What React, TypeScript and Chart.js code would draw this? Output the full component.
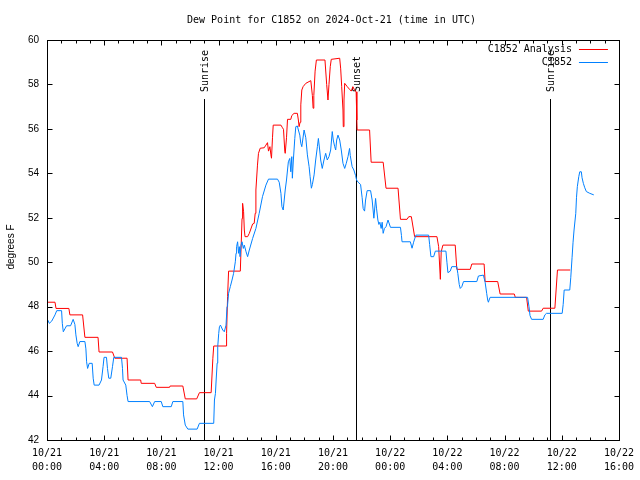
import React, { useEffect, useRef } from 'react';
import { Chart, registerables } from 'chart.js';

Chart.register(...registerables);

const TITLE = 'Dew Point for C1852 on 2024-Oct-21 (time in UTC)';
const Y_TITLE = 'degrees F';
const ANALYSIS_NAME = 'C1852 Analysis';
const OBS_NAME = 'C1852';

const X_TICK_DATES = ['10/21', '10/21', '10/21', '10/21', '10/21', '10/21', '10/22', '10/22', '10/22', '10/22', '10/22'];
const X_TICK_TIMES = ['00:00', '04:00', '08:00', '12:00', '16:00', '20:00', '00:00', '04:00', '08:00', '12:00', '16:00'];

const SUN_LABELS = ['Sunrise', 'Sunset', 'Sunrise'];
const SUN_HOURS = [11.01, 21.62, 35.17];

// hours since 10/21 00:00 UTC
const analysisHours = [
  0, 0.56, 0.63, 1.53, 1.6, 2.49, 2.65, 3.57, 3.64, 4.58,
  4.74, 5.6, 5.67, 6.55, 6.59, 7.53, 7.64, 8.57, 8.61, 9.5,
  9.67, 10.47, 10.66, 11.48, 11.6, 11.66, 12.52, 12.56, 12.63, 12.7,
  13.52, 13.64, 13.68, 13.75, 13.8, 13.85, 14.03, 14.15, 14.38, 14.49,
  14.56, 14.61, 14.72, 14.79, 14.91, 15.19, 15.31, 15.42, 15.49, 15.59,
  15.66, 15.7, 15.77, 15.82, 16.36, 16.47, 16.54, 16.63, 16.66, 16.75,
  16.82, 17.05, 17.12, 17.28, 17.51, 17.58, 17.63, 17.7, 17.75, 17.82,
  17.91, 18.1, 18.45, 18.56, 18.61, 18.66, 18.75, 18.84, 19.44, 19.56,
  19.65, 19.72, 19.81, 19.88, 20.47, 20.54, 20.61, 20.7, 20.72, 20.77,
  20.82, 21.0, 21.16, 21.28, 21.39, 21.53, 21.62, 21.67, 21.69, 22.56,
  22.67, 23.51, 23.71, 24.55, 24.72, 25.18, 25.3, 25.48, 25.71, 27.27,
  27.39, 27.51, 27.57, 27.69, 28.55, 28.66, 29.6, 29.71, 30.57, 30.64,
  31.52, 31.69, 32.68, 32.75, 33.54, 33.66, 34.59, 34.7, 35.52, 35.7,
  36.59,
];
const analysisValues = [
  48.2, 48.2, 47.92, 47.92, 47.63, 47.63, 46.62, 46.62, 45.96, 45.96,
  45.68, 45.68, 44.7, 44.7, 44.55, 44.55, 44.37, 44.37, 44.43, 44.43,
  43.85, 43.85, 44.13, 44.13, 45.68, 46.23, 46.23, 46.8, 48.45, 49.6,
  49.6, 51.97, 52.65, 52.27, 51.45, 51.15, 51.15, 51.3, 51.72, 51.75,
  52.2, 53.25, 54.37, 54.9, 55.13, 55.15, 55.27, 55.38, 55.0, 55.2,
  54.83, 54.68, 55.6, 56.17, 56.17, 56.05, 55.98, 55.0, 54.9, 55.6,
  56.43, 56.43, 56.6, 56.7, 56.7, 56.4, 56.1, 56.3, 57.08, 57.75,
  57.9, 58.05, 58.17, 57.5, 56.93, 57.5, 58.6, 59.1, 59.1, 58.0,
  57.3, 58.0, 58.8, 59.13, 59.18, 58.7, 57.9, 56.85, 56.1, 57.3,
  58.05, 57.9, 57.78, 57.7, 57.9, 57.72, 57.67, 56.4, 55.95, 55.95,
  54.5, 54.5, 53.33, 53.33, 51.93, 51.93, 52.05, 52.05, 51.15, 51.15,
  50.7, 49.23, 50.48, 50.77, 50.77, 49.68, 49.68, 49.92, 49.92, 49.13,
  49.13, 48.57, 48.57, 48.42, 48.42, 47.8, 47.8, 47.93, 47.93, 49.65,
  49.65,
];

const obsHours = [
  0, 0.16, 0.33, 0.56, 0.68, 1.02, 1.07, 1.14, 1.25, 1.37,
  1.65, 1.83, 1.95, 2.02, 2.11, 2.18, 2.3, 2.65, 2.72, 2.77,
  2.84, 2.95, 3.16, 3.23, 3.3, 3.64, 3.81, 3.92, 3.99, 4.16,
  4.23, 4.32, 4.46, 4.58, 4.67, 5.21, 5.28, 5.32, 5.51, 5.6,
  5.67, 7.18, 7.37, 7.53, 7.99, 8.1, 8.69, 8.8, 9.5, 9.55,
  9.67, 9.85, 10.5, 10.66, 11.66, 11.71, 11.78, 11.83, 11.9, 11.94,
  12.01, 12.06, 12.13, 12.29, 12.4, 12.52, 12.59, 12.63, 12.7, 12.82,
  12.94, 13.05, 13.17, 13.22, 13.26, 13.33, 13.4, 13.45, 13.5, 13.57,
  13.64, 13.73, 13.8, 13.92, 14.03, 14.15, 14.38, 14.61, 14.84, 15.07,
  15.31, 15.49, 16.12, 16.24, 16.36, 16.43, 16.52, 16.59, 16.66, 16.75,
  16.82, 16.88, 16.98, 17.05, 17.12, 17.16, 17.23, 17.33, 17.4, 17.51,
  17.58, 17.68, 17.75, 17.82, 17.98, 18.1, 18.21, 18.33, 18.4, 18.49,
  18.56, 18.68, 18.79, 18.91, 18.98, 19.07, 19.14, 19.25, 19.37, 19.49,
  19.6, 19.72, 19.84, 19.95, 20.02, 20.12, 20.19, 20.26, 20.35, 20.47,
  20.58, 20.7, 20.82, 20.93, 21.05, 21.16, 21.21, 21.34, 21.46, 21.58,
  21.65, 21.76, 21.93, 22.04, 22.11, 22.21, 22.28, 22.39, 22.63, 22.74,
  22.86, 22.98, 23.05, 23.14, 23.21, 23.28, 23.37, 23.44, 23.51, 23.6,
  23.71, 23.85, 24.02, 24.72, 24.79, 24.83, 25.41, 25.53, 25.64, 25.71,
  25.8, 26.69, 26.76, 26.85, 27.04, 27.16, 27.9, 27.97, 28.04, 28.2,
  28.31, 28.66, 28.73, 28.83, 28.9, 29.01, 29.13, 30.06, 30.17, 30.52,
  30.64, 30.75, 30.82, 30.87, 30.92, 30.99, 33.61, 33.71, 33.78, 33.89,
  34.7, 34.82, 34.93, 36.03, 36.1, 36.17, 36.56, 36.63, 36.72, 36.79,
  36.86, 36.98, 37.03, 37.09, 37.19, 37.26, 37.37, 37.42, 37.51, 37.61,
  37.72, 37.96, 38.24,
];
const obsValues = [
  47.47, 47.25, 47.35, 47.63, 47.82, 47.82, 47.25, 46.87, 47.0, 47.14,
  47.14, 47.43, 47.2, 46.73, 46.35, 46.2, 46.43, 46.43, 46.1, 45.52,
  45.22, 45.45, 45.45, 44.78, 44.47, 44.47, 44.7, 45.3, 45.72, 45.72,
  45.22, 44.78, 44.78, 45.3, 45.72, 45.72, 45.22, 44.7, 44.47, 44.0,
  43.73, 43.73, 43.5, 43.73, 43.73, 43.5, 43.5, 43.73, 43.73, 43.13,
  42.67, 42.49, 42.49, 42.75, 42.75, 43.8, 44.1, 44.7, 45.46, 46.2,
  46.8, 47.1, 47.17, 46.95, 46.87, 47.17, 48.0, 48.08, 48.6, 48.9,
  49.2, 49.5, 50.02, 50.4, 50.7, 50.92, 50.4, 50.7, 50.25, 50.77,
  50.92, 50.62, 50.77, 50.47, 50.25, 50.55, 51.07, 51.52, 52.2, 52.95,
  53.47, 53.74, 53.74, 53.6, 53.1, 52.5, 52.35, 52.8, 53.25, 53.7,
  54.15, 54.52, 54.67, 54.07, 54.75, 53.78, 54.6, 55.57, 56.1, 56.13,
  55.95, 55.72, 55.35, 55.2, 55.95, 55.6, 54.83, 54.3, 53.85, 53.33,
  53.5, 53.93, 54.6, 55.2, 55.57, 55.05, 54.6, 54.22, 54.6, 54.9,
  54.6, 54.75, 55.05, 55.88, 55.5, 55.2, 55.05, 55.5, 55.72, 55.5,
  55.05, 54.45, 54.22, 54.45, 54.75, 55.12, 54.8, 54.3, 54.15, 53.9,
  53.7, 53.6, 53.5, 52.9, 52.42, 52.3, 52.8, 53.22, 53.22, 52.8,
  51.98, 52.87, 52.4, 51.9, 51.7, 51.8, 51.52, 51.8, 51.3, 51.52,
  51.6, 51.9, 51.57, 51.57, 51.2, 50.92, 50.92, 50.63, 50.9, 51.05,
  51.22, 51.22, 50.8, 50.25, 50.25, 50.5, 50.5, 50.0, 49.53, 49.6,
  49.8, 49.8, 49.5, 49.0, 48.82, 48.9, 49.13, 49.13, 49.38, 49.42,
  49.1, 48.6, 48.3, 48.2, 48.3, 48.42, 48.42, 48.0, 47.6, 47.43,
  47.43, 47.63, 47.7, 47.7, 48.1, 48.75, 48.75, 49.3, 50.2, 50.9,
  51.45, 52.2, 52.9, 53.4, 53.85, 54.07, 54.07, 53.8, 53.55, 53.35,
  53.18, 53.1, 53.03,
];

const MONO = '"DejaVu Sans Mono", "Liberation Mono", monospace';
const SANS = '"Liberation Sans", Arial, sans-serif';
const RED = '#ff0000';
const BLUE = '#0080ff';

const decor = {
  id: 'gnuplotDecor',
  beforeDatasetsDraw(chart: any) {
    const { ctx, chartArea: a, scales } = chart;
    const x = scales.x;
    ctx.save();
    ctx.strokeStyle = '#000';
    ctx.fillStyle = '#000';
    ctx.lineWidth = 1;
    ctx.font = `10px ${MONO}`;
    SUN_HOURS.forEach((h, i) => {
      const px = Math.round(x.getPixelForValue(h)) + 0.5;
      ctx.beginPath();
      ctx.moveTo(px, a.top + 59);
      ctx.lineTo(px, a.bottom);
      ctx.stroke();
      ctx.save();
      ctx.translate(px + 1, a.top + 52);
      ctx.rotate(-Math.PI / 2);
      ctx.textAlign = 'left';
      ctx.textBaseline = 'middle';
      ctx.fillText(SUN_LABELS[i], 0, 0);
      ctx.restore();
    });
    ctx.restore();
  },
  afterDraw(chart: any) {
    const { ctx, chartArea: a, scales } = chart;
    const x = scales.x;
    const y = scales.y;
    ctx.save();
    ctx.strokeStyle = '#000';
    ctx.fillStyle = '#000';
    ctx.lineWidth = 1;
    const L = Math.round(a.left) + 0.5;
    const R = Math.round(a.right) + 0.5;
    const T = Math.round(a.top) + 0.5;
    const B = Math.round(a.bottom) + 0.5;
    ctx.beginPath();
    // y ticks (inward, both sides)
    for (let v = y.min; v <= y.max; v += 2) {
      const py = Math.round(y.getPixelForValue(v)) + 0.5;
      ctx.moveTo(L, py); ctx.lineTo(L + 5, py);
      ctx.moveTo(R, py); ctx.lineTo(R - 5, py);
    }
    // x ticks: hourly minor, 4-hourly major
    for (let h = x.min; h <= x.max; h += 1) {
      const px = Math.round(x.getPixelForValue(h)) + 0.5;
      const len = h % 4 === 0 ? 5 : 3;
      ctx.moveTo(px, B); ctx.lineTo(px, B - len);
      ctx.moveTo(px, T); ctx.lineTo(px, T + len);
    }
    ctx.stroke();
    ctx.strokeRect(L, T, R - L, B - T);

    // title
    ctx.font = `10px ${MONO}`;
    ctx.textAlign = 'center';
    ctx.textBaseline = 'middle';
    ctx.fillText(TITLE, 331.5, 20);

    // legend (inside, top right)
    const items = [
      { label: chart.data.datasets[1].label, color: chart.data.datasets[1].borderColor },
      { label: chart.data.datasets[0].label, color: chart.data.datasets[0].borderColor },
    ];
    items.forEach((it, i) => {
      const ly = Math.round(a.top + 9 + i * 13) + 0.5;
      ctx.fillStyle = '#000';
      ctx.textAlign = 'right';
      ctx.fillText(it.label, a.right - 47, ly);
      ctx.strokeStyle = it.color;
      ctx.beginPath();
      ctx.moveTo(a.right - 40, ly);
      ctx.lineTo(a.right - 11, ly);
      ctx.stroke();
    });

    // y axis title
    ctx.fillStyle = '#000';
    ctx.font = `10px ${SANS}`;
    ctx.translate(11.5, 247);
    ctx.rotate(-Math.PI / 2);
    ctx.textAlign = 'center';
    ctx.textBaseline = 'middle';
    ctx.fillText(Y_TITLE, 0, 0);
    ctx.restore();
  },
};

export default function App() {
  const ref = useRef<HTMLCanvasElement>(null);
  useEffect(() => {
    const chart = new Chart(ref.current as HTMLCanvasElement, {
      type: 'line',
      data: {
        datasets: [
          {
            label: OBS_NAME,
            data: obsHours.map((h, i) => ({ x: h, y: obsValues[i] })),
            borderColor: BLUE,
            borderWidth: 1,
            pointRadius: 0,
            tension: 0,
            fill: false,
            order: 0,
          },
          {
            label: ANALYSIS_NAME,
            data: analysisHours.map((h, i) => ({ x: h, y: analysisValues[i] })),
            borderColor: RED,
            borderWidth: 1,
            pointRadius: 0,
            tension: 0,
            fill: false,
            order: 1,
          },
        ],
      },
      options: {
        animation: false,
        responsive: false,
        devicePixelRatio: 1,
        events: [],
        layout: { padding: { top: 40, right: 19, left: 0, bottom: 0 } },
        plugins: {
          legend: { display: false },
          title: { display: false },
          tooltip: { enabled: false },
        },
        scales: {
          x: {
            type: 'linear',
            min: 0,
            max: 40,
            grid: { display: false, drawTicks: false },
            border: { display: false },
            afterFit: (s: any) => { s.height = 40; },
            ticks: {
              stepSize: 4,
              autoSkip: false,
              maxRotation: 0,
              minRotation: 0,
              padding: 6,
              color: '#000',
              font: { family: MONO, size: 10, lineHeight: 1.4 },
              callback: (_v: any, i: number) => [X_TICK_DATES[i], X_TICK_TIMES[i]],
            },
          },
          y: {
            type: 'linear',
            min: 42,
            max: 60,
            grid: { display: false, drawTicks: false },
            border: { display: false },
            afterFit: (s: any) => { s.width = 47; },
            ticks: {
              stepSize: 2,
              padding: 8,
              color: '#000',
              font: { family: SANS, size: 10 },
            },
          },
        },
      },
      plugins: [decor],
    } as any);
    return () => chart.destroy();
  }, []);
  return (
    <div style={{ position: 'fixed', left: 0, top: 0, width: 640, height: 480, background: '#fff' }}>
      <canvas ref={ref} width={640} height={480} />
    </div>
  );
}
